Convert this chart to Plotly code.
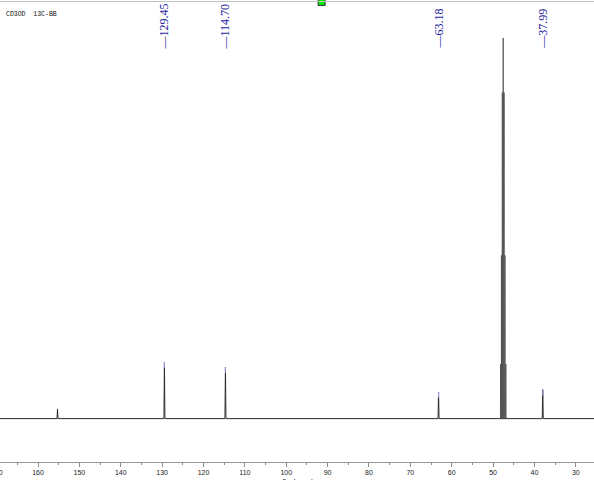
import plotly.graph_objects as go

# ---- data ----
peak_ppm = [155.3, 129.45, 114.70, 63.18, 37.99]
peak_int = [2.5, 14.85, 13.5, 7.0, 7.6]

# solvent multiplet (CD3OD septet)
solv_ppm = [48.19, 47.98, 47.76, 47.55, 47.34, 47.12, 46.91]
solv_int = [14.3, 42.9, 85.7, 100.0, 85.7, 42.9, 14.3]

label_ppm = [129.45, 114.70, 63.18, 37.99]
label_txt = ["129.45", "114.70", "63.18", "37.99"]

x_tick_vals = [170, 160, 150, 140, 130, 120, 110, 100, 90, 80, 70, 60, 50, 40, 30]

x_range = [169.2, 25.6]
y_range = [-11.4, 110.0]

tick_font = dict(family="Liberation Sans", size=7, color="#222")

# ---- build spectrum polyline (stick peaks on a flat baseline) ----
xs, ys = [x_range[0] + 1], [0]
for p, h in sorted(zip(peak_ppm, peak_int), key=lambda t: -t[0]):
    xs += [p + 0.12, p, p - 0.12]
    ys += [0, h, 0]
xs.append(x_range[1] - 1)
ys.append(0)

sx, sy = [], []
for p, h in zip(solv_ppm, solv_int):
    sx += [p + 0.03, p, p - 0.03]
    sy += [0, h, 0]

fig = go.Figure()
fig.add_trace(go.Scatter(x=xs, y=ys, mode="lines",
                         line=dict(color="#2a2a2a", width=1),
                         hoverinfo="skip", showlegend=False))
fig.add_trace(go.Scatter(x=sx, y=sy, mode="lines",
                         line=dict(color="#4a4a4a", width=0.8),
                         hoverinfo="skip", showlegend=False))

# light-blue tips on labelled peaks
tip_x, tip_y = [], []
pk = dict(zip(peak_ppm, peak_int))
for p in label_ppm:
    h = pk[p]
    tip_x += [p, p, None]
    tip_y += [h - 1.5, h, None]
fig.add_trace(go.Scatter(x=tip_x, y=tip_y, mode="lines",
                         line=dict(color="#9a9ae6", width=1),
                         hoverinfo="skip", showlegend=False))

# green marker at top
fig.add_trace(go.Scatter(x=[91.45], y=[109.5], mode="markers",
                         marker=dict(symbol="square", size=7, color="#00ee00",
                                     line=dict(color="#2a2a2a", width=1)),
                         cliponaxis=False, hoverinfo="skip", showlegend=False))

annotations = []
for p, t in zip(label_ppm, label_txt):
    annotations.append(dict(
        x=p, y=(462 - 51) / 462, xref="x", yref="paper",
        text="—" + t, textangle=-90, showarrow=False,
        xanchor="center", yanchor="bottom",
        font=dict(family="Liberation Serif", size=12, color="#1c1c9c")))

# tick label of 170, which lies just outside the visible range (left edge)
x0_frac = (x_range[0] - x_tick_vals[0]) / (x_range[0] - x_range[1])
annotations.append(dict(x=x0_frac, y=(462 - 473) / 462, xref="paper", yref="paper",
                        text=str(x_tick_vals[0]), showarrow=False,
                        xanchor="center", yanchor="middle", font=tick_font))

annotations.append(dict(x=4 / 594, y=(462 - 15) / 462, xref="paper", yref="paper",
                        text="CD3OD  13C-BB", showarrow=False,
                        xanchor="left", yanchor="middle",
                        font=dict(family="Liberation Mono", size=6.5, color="#111")))

annotations.append(dict(x=298 / 594, y=(462 - 475) / 462, xref="paper", yref="paper",
                        text="δ<sub>C</sub> (ppm)", showarrow=False,
                        xanchor="center", yanchor="top",
                        font=dict(family="Liberation Sans", size=8, color="#333")))

fig.update_layout(
    width=594, height=480,
    margin=dict(l=0, r=0, t=0, b=18),
    paper_bgcolor="white", plot_bgcolor="white",
    annotations=annotations,
    shapes=[dict(type="line", xref="paper", yref="paper",
                 x0=0, x1=1, y0=1 - 1.5 / 462, y1=1 - 1.5 / 462,
                 line=dict(color="#c4c4c4", width=1))],
    xaxis=dict(range=x_range, tickvals=x_tick_vals,
               ticks="outside", ticklen=4, tickcolor="#8a8a8a", tickwidth=1,
               showline=True, linecolor="#9a9a9a", linewidth=1,
               showgrid=False, zeroline=False,
               tickfont=tick_font,
               minor=dict(dtick=5, tick0=0, ticks="outside", ticklen=2,
                          tickcolor="#8a8a8a", showgrid=False)),
    yaxis=dict(range=y_range, visible=False, showgrid=False, zeroline=False),
)

fig.write_html("out.html",
               config={"displayModeBar": False, "staticPlot": True},
               post_script="document.body.style.margin='0';"
                           "document.body.style.overflow='hidden';")
